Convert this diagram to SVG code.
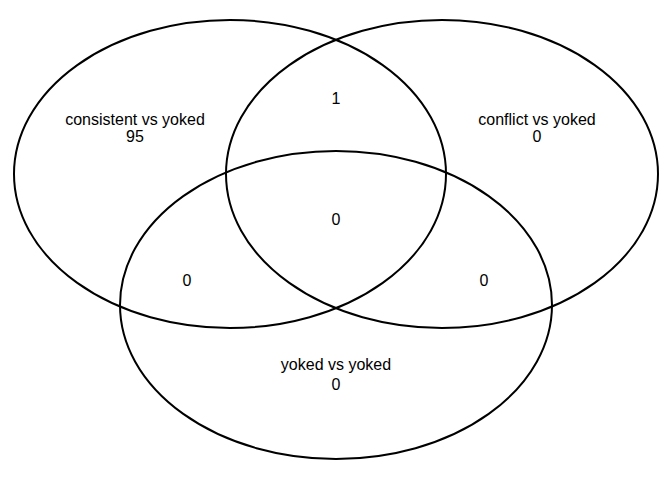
<svg xmlns="http://www.w3.org/2000/svg" width="672" height="480" viewBox="0 0 672 480">
<style>
.set{fill:none;stroke:#000;stroke-width:2}
text{font-family:"Liberation Sans",Arial,sans-serif;font-size:16px;fill:#000;text-anchor:middle}
</style>
<rect width="672" height="480" fill="#fff"/>
<g id="sets">
<g id="set-consistent"><ellipse class="set" cx="230" cy="174" rx="216" ry="154"/></g>
<g id="set-conflict"><ellipse class="set" cx="442" cy="174" rx="216" ry="154"/></g>
<g id="set-yoked"><ellipse class="set" cx="336" cy="305" rx="216" ry="154"/></g>
</g>
<g id="connectors"></g>
<g id="labels">
<text x="135" y="125">consistent vs yoked</text>
<text x="135" y="142">95</text>
<text x="537" y="125">conflict vs yoked</text>
<text x="537" y="142">0</text>
<text x="336" y="104">1</text>
<text x="336" y="225">0</text>
<text x="187" y="286">0</text>
<text x="484" y="286">0</text>
<text x="336" y="370">yoked vs yoked</text>
<text x="336" y="390">0</text>
</g>
</svg>
